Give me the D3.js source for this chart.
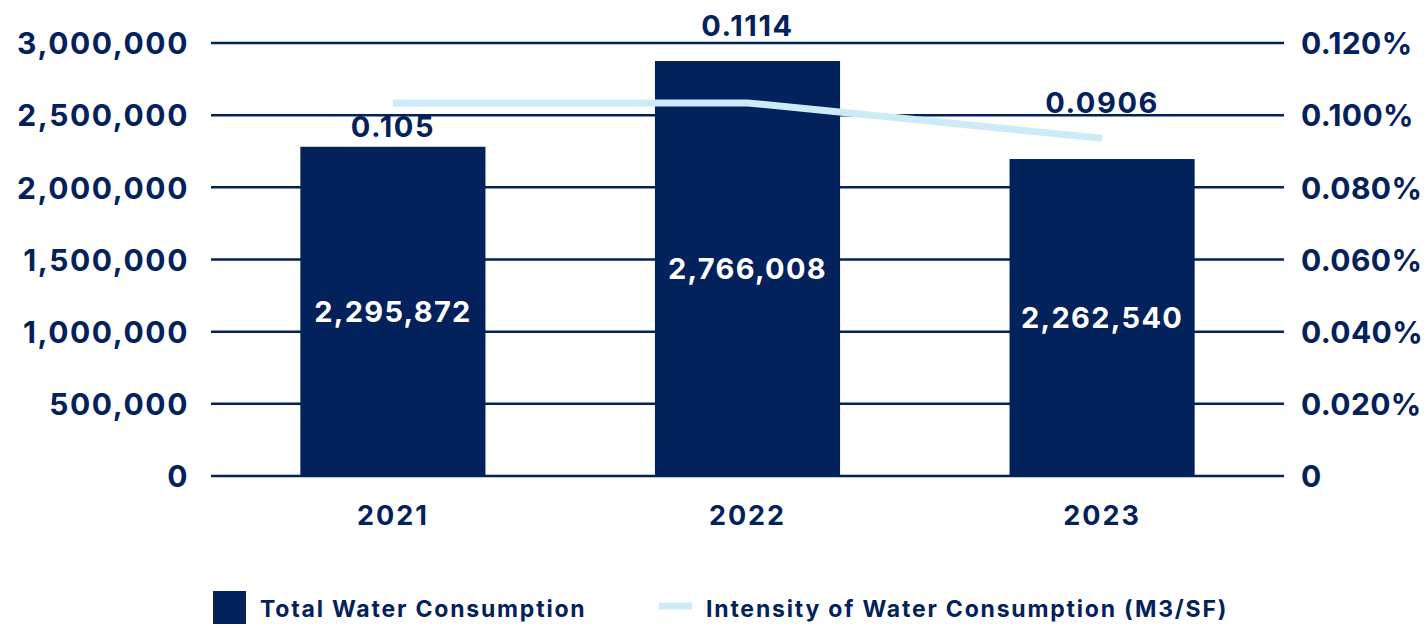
<!DOCTYPE html>
<html>
<head>
<meta charset="utf-8">
<script src="https://cdn.jsdelivr.net/npm/d3@7"></script>
<style>
  body { margin: 0; background: #fff; }
  text { font-family: Inter, "DejaVu Sans", sans-serif; font-weight: 700; }
</style>
</head>
<body>
<div id="chart"></div>
<script>
// data
var years = ["2021", "2022", "2023"];
var consumption = [2281000, 2875000, 2196000];          // bar heights as drawn
var consumptionLabels = ["2,295,872", "2,766,008", "2,262,540"];
var intensity = [0.1034, 0.1034, 0.0936];                // line as drawn (%)
var intensityLabels = ["0.105", "0.1114", "0.0906"];
var leftTicks = [0, 500000, 1000000, 1500000, 2000000, 2500000, 3000000];
var rightTicks = [0, 0.02, 0.04, 0.06, 0.08, 0.10, 0.12];
var seriesNames = ["Total Water Consumption", "Intensity of Water Consumption (M3/SF)"];

var navy = "#03215b", light = "#cdebf7";

var mrg = { top: 43, right: 143, bottom: 150, left: 211 },
    svgWidth = 1427 - mrg.left - mrg.right,
    svgHeight = 626 - mrg.top - mrg.bottom;

var svg = d3.select("#chart")
  .append("svg")
  .attr("width", 1427)
  .attr("height", 626);
var chart = svg.append("g")
  .attr("transform", `translate(${mrg.left}, ${mrg.top})`);

var xScale = d3.scaleBand().domain(years).range([0, svgWidth])
  .paddingInner(0.478).paddingOuter(0.252);
var yLeft = d3.scaleLinear().domain([0, 3000000]).range([svgHeight, 0]);
var yRight = d3.scaleLinear().domain([0, 0.12]).range([svgHeight, 0]);

// gridlines
chart.selectAll("line.grid")
  .data(leftTicks)
  .enter()
  .append("line")
  .attr("class", "grid")
  .attr("x1", 0)
  .attr("x2", svgWidth)
  .attr("y1", function (d) { return yLeft(d); })
  .attr("y2", function (d) { return yLeft(d); })
  .attr("stroke", navy)
  .attr("stroke-width", 2.5);

// left axis
var y_axis = d3.axisLeft(yLeft).tickValues(leftTicks).tickSize(0).tickPadding(22)
  .tickFormat(function (d) { return d === 0 ? "0" : d3.format(",")(d); });
chart.append("g")
  .call(y_axis)
  .call(function (g) { g.select(".domain").remove(); })
  .selectAll("text")
  .attr("fill", navy)
  .style("font-size", "30px")
  .style("letter-spacing", "1.6px")
  .attr("dy", "0.36em");

// right axis
var r_axis = d3.axisRight(yRight).tickValues(rightTicks).tickSize(0).tickPadding(17)
  .tickFormat(function (d) { return d === 0 ? "0" : d3.format(".3f")(d) + "%"; });
chart.append("g")
  .attr("transform", `translate(${svgWidth}, 0)`)
  .call(r_axis)
  .call(function (g) { g.select(".domain").remove(); })
  .selectAll("text")
  .attr("fill", navy)
  .style("font-size", "30px")
  .style("letter-spacing", "0.4px")
  .attr("dy", "0.36em");

// x axis
chart.append("g")
  .attr("transform", `translate(0, ${svgHeight})`)
  .call(d3.axisBottom(xScale).tickSize(0).tickPadding(30))
  .call(function (g) { g.select(".domain").remove(); })
  .selectAll("text")
  .attr("fill", navy)
  .style("font-size", "27px")
  .style("letter-spacing", "2px");

// bars
chart.selectAll("rect.bar")
  .data(consumption)
  .enter()
  .append("rect")
  .attr("class", "bar")
  .attr("fill", navy)
  .attr("x", function (d, i) { return xScale(years[i]); })
  .attr("y", function (d) { return yLeft(d); })
  .attr("width", xScale.bandwidth())
  .attr("height", function (d) { return svgHeight - yLeft(d); });

chart.selectAll("text.barlabel")
  .data(consumption)
  .enter()
  .append("text")
  .attr("class", "barlabel")
  .attr("x", function (d, i) { return xScale(years[i]) + xScale.bandwidth() / 2; })
  .attr("y", function (d) { return (yLeft(d) + svgHeight) / 2; })
  .attr("dy", "0.36em")
  .attr("text-anchor", "middle")
  .attr("fill", "#fff")
  .style("font-size", "29px")
  .style("letter-spacing", "1.3px")
  .text(function (d, i) { return consumptionLabels[i]; });

// intensity line
var line = d3.line()
  .x(function (d, i) { return xScale(years[i]) + xScale.bandwidth() / 2; })
  .y(function (d) { return yRight(d); });
chart.append("path")
  .datum(intensity)
  .attr("fill", "none")
  .attr("stroke", light)
  .attr("stroke-width", 7)
  .attr("d", line);

chart.selectAll("text.linelabel")
  .data(intensity)
  .enter()
  .append("text")
  .attr("class", "linelabel")
  .attr("x", function (d, i) { return xScale(years[i]) + xScale.bandwidth() / 2; })
  .attr("y", function (d, i) {
    // first label hugs its bar, the rest sit above whichever is higher
    if (i === 0) return yLeft(consumption[i]) - 10;
    return Math.min(yLeft(consumption[i]), yRight(d)) - 25;
  })
  .attr("text-anchor", "middle")
  .attr("fill", navy)
  .style("font-size", "29px")
  .style("letter-spacing", "1.6px")
  .text(function (d, i) { return intensityLabels[i]; });

// legend
var legend = svg.append("g").attr("transform", "translate(213, 0)");
legend.append("rect")
  .attr("x", 0).attr("y", 591).attr("width", 33).attr("height", 33)
  .attr("fill", navy);
legend.append("text")
  .attr("x", 47).attr("y", 617)
  .attr("fill", navy)
  .style("font-size", "23px")
  .style("letter-spacing", "1.8px")
  .text(seriesNames[0]);
legend.append("line")
  .attr("x1", 446).attr("x2", 479).attr("y1", 606).attr("y2", 606)
  .attr("stroke", light).attr("stroke-width", 7);
legend.append("text")
  .attr("x", 493).attr("y", 617)
  .attr("fill", navy)
  .style("font-size", "23px")
  .style("letter-spacing", "1.8px")
  .text(seriesNames[1]);
</script>
</body>
</html>
